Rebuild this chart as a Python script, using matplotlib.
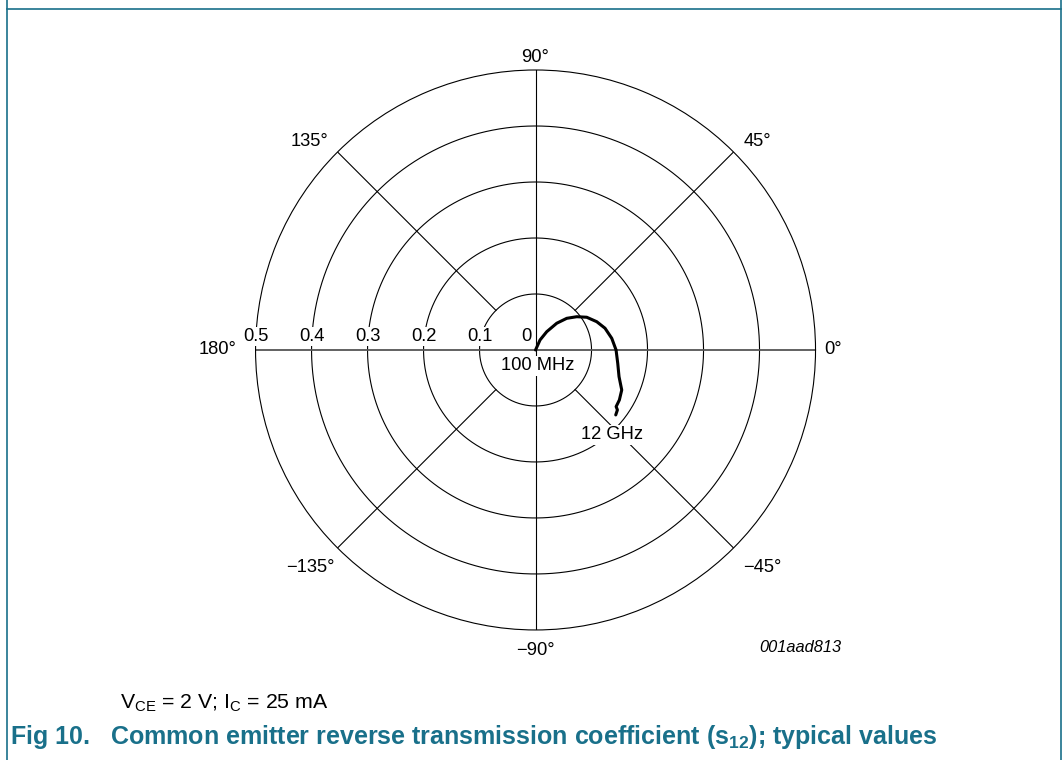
import numpy as np
import matplotlib
matplotlib.use('Agg')
import matplotlib.pyplot as plt
from matplotlib.lines import Line2D

plt.rcParams['font.family'] = ['Liberation Sans', 'DejaVu Sans']
plt.rcParams['mathtext.fontset'] = 'custom'
plt.rcParams['mathtext.rm'] = 'Liberation Sans'
plt.rcParams['mathtext.bf'] = 'Liberation Sans:bold'

TEAL = '#19708a'

# s12 trace, 100 MHz .. 12 GHz (magnitude, angle in degrees)
mag = [0.0, 0.0196, 0.0383, 0.0609, 0.0794, 0.0946, 0.1085, 0.1204, 0.1300,
       0.1377, 0.1438, 0.1487, 0.1565, 0.1697, 0.1743, 0.1759, 0.1812, 0.1843]
ang = [66.0, 65.8, 58.5, 51.6, 45.4, 38.9, 32.6, 24.8, 17.4,
       8.7, 0.0, -9.2, -17.7, -24.9, -30.8, -35.1, -36.2, -39.0]

r_rings = [0.1, 0.2, 0.3, 0.4, 0.5]
r_labels = ['0.1', '0.2', '0.3', '0.4', '0.5']
ang_labels = ['0°', '45°', '90°', '135°', '180°', '\u2212135°', '\u221290°', '\u221245°']
# label placement (angle deg, radius) read from the sheet
ang_label_pos = [(0, 0.531), (43.3, 0.544), (90, 0.523), (137.2, 0.549),
                 (180, 0.567), (-136.1, 0.559), (-90, 0.5375), (-43.8, 0.56)]


def draw_chart():
    fig = plt.figure(figsize=(10.63, 7.6), dpi=100)
    ax = fig.add_axes([0.2404, 0.1711, 0.5268, 0.7368], projection='polar')
    ax.set_rlim(0, 0.5)
    ax.set_xticks([])
    ax.set_yticks([])
    ax.grid(False)
    ax.spines['polar'].set_linewidth(0.8)
    ax.spines['polar'].set_color('black')

    th = np.linspace(0, 2 * np.pi, 400)
    for r in r_rings[:-1]:
        ax.plot(th, np.full_like(th, r), color='black', lw=0.8)

    # main axes through the centre
    ax.plot([0, np.pi], [0.5, 0.5], color='#555555', lw=1.3)
    ax.plot([np.pi / 2, -np.pi / 2], [0.5, 0.5], color='black', lw=0.8)
    # diagonal spokes from the inner ring outwards
    for d in [45, 135, -135, -45]:
        t = np.radians(d)
        ax.plot([t, t], [0.1, 0.5], color='black', lw=0.8)

    ax.plot(np.radians(ang), mag, color='black', lw=2.2, solid_capstyle='round',
            zorder=4)

    box = dict(facecolor='white', edgecolor='none', pad=1)
    for r, lab in zip(r_rings, r_labels):
        ax.annotate(lab, xy=(np.pi, r), xytext=(0, 5), textcoords='offset pixels',
                    ha='center', va='bottom', fontsize=13.2, bbox=box, zorder=5)
    ax.annotate('0', xy=(0, 0), xytext=(-4, 5), textcoords='offset pixels',
                ha='right', va='bottom', fontsize=13.2, zorder=5)

    for lab, (a, r) in zip(ang_labels, ang_label_pos):
        ax.text(np.radians(a), r, lab, ha='center', va='center', fontsize=13.2,
                clip_on=False)

    ax.annotate('100 MHz', xy=(0, 0), xytext=(2, -16), textcoords='offset pixels',
                ha='center', va='center', fontsize=13.2, bbox=box, zorder=5)
    ax.annotate('12 GHz', xy=(np.radians(ang[-1]), mag[-1]), xytext=(-4, -20),
                textcoords='offset pixels', ha='center', va='center',
                fontsize=13.2, bbox=box, zorder=5)

    fig.text(800 / 1063, 1 - 648 / 760, '001aad813', style='italic',
             ha='center', va='center', fontsize=11.8)

    fig.text(120 / 1063, 1 - 703 / 760,
             r'$\mathregular{V_{CE}}$ = 2 V; $\mathregular{I_C}$ = 25 mA',
             ha='left', va='center', fontsize=15.3)
    fig.text(10 / 1063, 1 - 737 / 760,
             r'Fig 10.   Common emitter reverse transmission coefficient '
             r'(s$\mathbf{_{12}}$); typical values',
             ha='left', va='center', fontsize=18, fontweight='bold', color=TEAL)

    # frame around the figure area
    fig.add_artist(Line2D([7 / 1063, 1061 / 1063], [1 - 9 / 760, 1 - 9 / 760],
                          color=TEAL, lw=1.2, transform=fig.transFigure))
    for x in [7 / 1063, 1061 / 1063]:
        fig.add_artist(Line2D([x, x], [0, 1], color=TEAL, lw=1.2,
                              transform=fig.transFigure))

    fig.savefig('out.png', dpi=100)


if __name__ == '__main__':
    draw_chart()
